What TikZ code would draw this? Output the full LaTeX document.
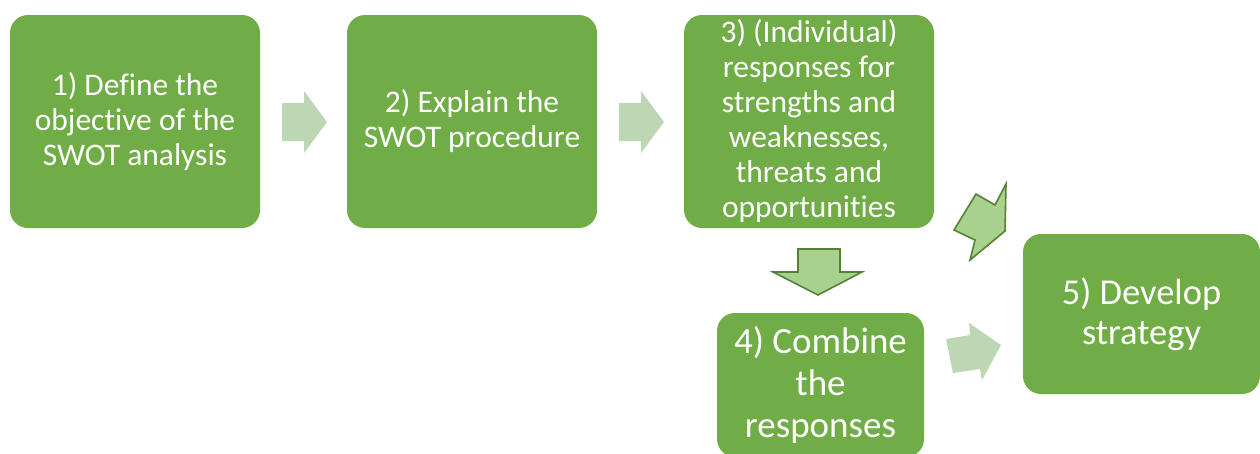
\documentclass[tikz,border=0pt]{standalone}
\usepackage{fontspec}
\setmainfont{Carlito}[Ligatures=NoCommon]
\definecolor{boxgreen}{HTML}{70AD47}
\definecolor{paleshaft}{HTML}{BDD7B4}
\definecolor{midgreen}{HTML}{A9D18E}
\definecolor{darkgreen}{HTML}{548235}
\tikzset{
  stepbox/.style={rectangle, rounded corners=18pt, fill=boxgreen, text=white,
    align=center, inner sep=0pt, minimum width=250pt, minimum height=213pt,
    font=\fontsize{31.5}{35}\selectfont},
  bigtext/.style={font=\fontsize{37}{42}\selectfont},
  palearrow/.style={fill=paleshaft},
  edgearrow/.style={fill=midgreen, draw=darkgreen, line width=1.6pt, line join=miter}
}
\begin{document}
\begin{tikzpicture}[x=1pt,y=-1pt]
  \useasboundingbox (0,0) rectangle (1260,453);
  \begin{scope}
    \clip (0,0) rectangle (1260,453);
    % the five steps
    \node[stepbox] (define) at (135,121.5) {1) Define the\\objective of the\\SWOT analysis};
    \node[stepbox] (explain) at (472,121.5) {2) Explain the\\SWOT procedure};
    \node[stepbox] (responses) at (809,121.5) {3) (Individual)\\responses for\\strengths and\\weaknesses,\\threats and\\opportunities};
    \node[stepbox, bigtext, minimum width=207pt, minimum height=144pt] (combine) at (820.5,385) {4) Combine\\the\\responses};
    \node[stepbox, bigtext, minimum width=237pt, minimum height=160pt,
      font=\fontsize{36.5}{40}\selectfont] (develop) at (1141.5,314) {5) Develop\\strategy};
  \end{scope}
  % arrows between the top row
  \foreach \dx in {0,337} {
    \fill[palearrow, xshift=\dx] (282,103) -- (304,103) -- (304,91) -- (327,122)
      -- (304,153) -- (304,141) -- (282,141) -- cycle;
  }
  % down to step 4
  \filldraw[edgearrow] (798,249) -- (840,249) -- (840,272) -- (862,272)
    -- (818,295) -- (773,272) -- (798,272) -- cycle;
  % step 4 to step 5
  \fill[palearrow] (946,339) -- (970,335) -- (969,323) -- (1001,345)
    -- (982,380) -- (980,369) -- (953,373) -- cycle;
  % step 3 to step 5
  \filldraw[edgearrow] (1006,184) -- (995,205) -- (976,194) -- (954,230)
    -- (975,240) -- (970,260) -- (1005,231) -- cycle;
\end{tikzpicture}
\end{document}
